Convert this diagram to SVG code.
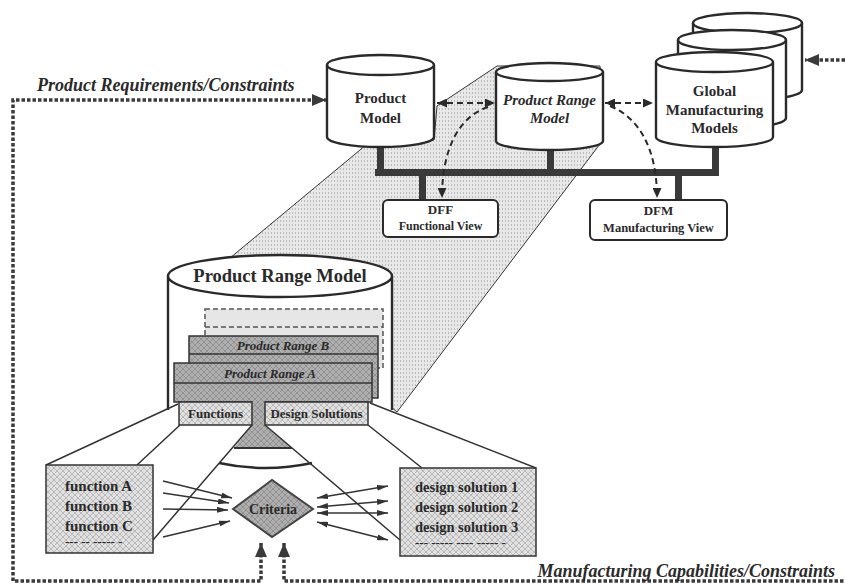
<svg xmlns="http://www.w3.org/2000/svg" width="845" height="584" viewBox="0 0 845 584">
<defs>
<style>
.ln{stroke:#2a2a2a;fill:none}
.cyl{fill:#fff;stroke:#2a2a2a;stroke-width:2.4}
.t{font-family:"Liberation Serif","Times New Roman",serif;font-weight:bold;fill:#2a2a2a;text-anchor:middle}
.ti{font-style:italic}
.dot{stroke:#3a3a3a;stroke-width:3.5;stroke-dasharray:3.5 2;fill:none}
.dash{stroke:#2a2a2a;stroke-width:2;stroke-dasharray:6 4;fill:none}
.thin{stroke:#333;stroke-width:1.5;fill:none}
.bus{fill:#3a3a3a}
</style>
<pattern id="xh" width="6" height="6" patternUnits="userSpaceOnUse"><rect width="6" height="6" fill="#e0e0e0"/><path d="M0 0L6 6M6 0L0 6" stroke="#b8b8b8" stroke-width="1"/></pattern>
<pattern id="xhd" width="6" height="6" patternUnits="userSpaceOnUse"><rect width="6" height="6" fill="#aeaeae"/><path d="M0 0L6 6M6 0L0 6" stroke="#929292" stroke-width="1"/></pattern>
<pattern id="dots" width="3" height="4" patternUnits="userSpaceOnUse"><rect width="3" height="4" fill="#e8e8e8"/><rect x="1" y="0" width="1" height="2" fill="#bcbcbc"/></pattern>
<marker id="big" viewBox="0 0 14 12" refX="14" refY="6" markerWidth="14" markerHeight="12" markerUnits="userSpaceOnUse" orient="auto-start-reverse"><path d="M0 0L14 6L0 12z" fill="#3a3a3a"/></marker>
<marker id="mid" viewBox="0 0 10 9" refX="10" refY="4.5" markerWidth="10" markerHeight="9" markerUnits="userSpaceOnUse" orient="auto-start-reverse"><path d="M0 0L10 4.5L0 9z" fill="#2a2a2a"/></marker>
<marker id="sm" viewBox="0 0 11 6" refX="11" refY="3" markerWidth="11" markerHeight="6" markerUnits="userSpaceOnUse" orient="auto-start-reverse"><path d="M0 0L11 3L0 6z" fill="#333"/></marker>
</defs>
<rect width="845" height="584" fill="#fff"/>

<!-- shaded projection -->
<polygon id="shade" points="437,106 497,66 600,66 603,140 397,412 300,330 230,258 372,140 434,140" fill="url(#dots)" stroke="#333" stroke-width="1"/>

<!-- bus -->
<g id="bus">
<rect class="bus" x="375" y="169" width="344" height="7"/>
<rect class="bus" x="377" y="140" width="7" height="33"/>
<rect class="bus" x="547" y="145" width="7" height="28"/>
<rect class="bus" x="712" y="140" width="7" height="33"/>
<rect class="bus" x="419" y="172" width="7" height="29"/>
<rect class="bus" x="675" y="172" width="7" height="29"/>
</g>

<g id="product-model">
<path class="cyl" d="M327 65V137A53.5 10 0 0 0 434 137V65"/>
<ellipse class="cyl" cx="380.5" cy="65" rx="53.5" ry="10"/>
<text class="t" x="380.5" y="103" font-size="15">Product</text>
<text class="t" x="380.5" y="123" font-size="15">Model</text>
</g>

<g id="product-range-model-small">
<path class="cyl" d="M496 72V141A53.5 9 0 0 0 603 141V72"/>
<ellipse class="cyl" cx="549.5" cy="72" rx="53.5" ry="9"/>
<text class="t ti" x="549.5" y="105" font-size="15">Product Range</text>
<text class="t ti" x="549.5" y="123" font-size="15">Model</text>
</g>

<g id="global-manufacturing-models">
<path class="cyl" d="M693 23V90A54.5 10 0 0 0 802 90V23"/>
<ellipse class="cyl" cx="747.5" cy="23" rx="54.5" ry="10"/>
<path class="cyl" d="M678 40V118A54 10 0 0 0 786 118V40"/>
<ellipse class="cyl" cx="732" cy="40" rx="54" ry="10"/>
<path class="cyl" d="M656 62V137A58.5 10 0 0 0 773 137V62"/>
<ellipse class="cyl" cx="714.5" cy="62" rx="58.5" ry="10"/>
<text class="t" x="714.5" y="96" font-size="15">Global</text>
<text class="t" x="714.5" y="115" font-size="15">Manufacturing</text>
<text class="t" x="714.5" y="133" font-size="15">Models</text>
</g>

<g id="dff">
<rect x="383" y="200" width="115" height="37" rx="5" fill="#fff" stroke="#2a2a2a" stroke-width="2"/>
<text class="t" x="440.5" y="214" font-size="13">DFF</text>
<text class="t" x="440.5" y="230" font-size="12">Functional View</text>
</g>

<g id="dfm">
<rect x="590" y="200" width="137" height="40" rx="5" fill="#fff" stroke="#2a2a2a" stroke-width="2"/>
<text class="t" x="658.5" y="215" font-size="13">DFM</text>
<text class="t" x="658.5" y="232" font-size="12.5">Manufacturing View</text>
</g>

<g id="big-cylinder">
<rect x="168" y="276" width="224" height="136" fill="#fff"/>
<path class="ln" stroke-width="2.4" d="M168 276V410M392 276V410"/>
<ellipse class="cyl" cx="280" cy="276" rx="112" ry="21"/>
<text class="t" x="280" y="282" font-size="18.5">Product Range Model</text>
<path class="ln" stroke-width="2.4" d="M219 463Q265 473 312 463"/>
</g>

<g id="layers">
<rect x="205" y="309" width="178" height="59" fill="#e6e6e6" stroke="#555" stroke-width="1.5" stroke-dasharray="5 3"/>
<line x1="205" y1="327" x2="383" y2="327" stroke="#555" stroke-width="1.5" stroke-dasharray="5 3"/>
<rect x="189" y="336" width="189" height="62" fill="url(#xhd)" stroke="#333" stroke-width="1.5"/>
<line x1="189" y1="354" x2="378" y2="354" stroke="#333" stroke-width="1.5"/>
<text class="t ti" x="283" y="350" font-size="13" fill="#3a3a3a">Product Range B</text>
<rect x="174" y="363" width="198" height="39" fill="url(#xhd)" stroke="#333" stroke-width="1.5"/>
<line x1="174" y1="383" x2="372" y2="383" stroke="#333" stroke-width="1.5"/>
<text class="t ti" x="270" y="378" font-size="13" fill="#3a3a3a">Product Range A</text>
<polygon points="252,400 265,400 265,425 292,448 234,448 252,425" fill="url(#xhd)"/>
<line x1="234" y1="448" x2="292" y2="448" stroke="#333" stroke-width="2"/>
</g>

<g id="functions">
<rect x="179" y="402" width="73" height="23" fill="url(#xh)" stroke="#333" stroke-width="1.5"/>
<text class="t" x="215.5" y="418" font-size="13" fill="#444">Functions</text>
</g>
<g id="design-solutions">
<rect x="265" y="402" width="103" height="23" fill="url(#xh)" stroke="#333" stroke-width="1.5"/>
<text class="t" x="316.5" y="418" font-size="13" fill="#444">Design Solutions</text>
</g>

<g id="projection-lines" class="thin" stroke-width="1.3">
<path d="M178 404L46 465M180 425L137 465M252 425L153 540"/>
<path d="M370 403L536 468M368 425L422 468M265 425L400 540"/>
</g>

<g id="function-list">
<rect x="46" y="465" width="107" height="88" fill="url(#xh)" stroke="#333" stroke-width="1.5"/>
<g class="t" font-size="15" style="text-anchor:start">
<text x="65" y="491">function A</text>
<text x="65" y="511">function B</text>
<text x="65" y="531">function C</text>
<text x="65" y="546" font-size="13">--- -- ----- -</text>
</g>
</g>

<g id="design-list">
<rect x="400" y="468" width="136" height="88" fill="url(#xh)" stroke="#333" stroke-width="1.5"/>
<g class="t" font-size="14.5" style="text-anchor:start">
<text x="415" y="492">design solution 1</text>
<text x="415" y="512">design solution 2</text>
<text x="415" y="532">design solution 3</text>
<text x="415" y="547" font-size="13">--- ----- ---- ----- -</text>
</g>
</g>

<g id="criteria">
<polygon points="233,509 272,480 313,509 272,537" fill="url(#xhd)" stroke="#444" stroke-width="2"/>
<text class="t" x="273" y="514" font-size="14" fill="#555" font-weight="normal">Criteria</text>
</g>

<g id="connectors">
<g class="thin">
<path d="M163 481L232 498" marker-end="url(#sm)"/>
<path d="M163 493L229 503" marker-end="url(#sm)"/>
<path d="M163 509L228 510" marker-end="url(#sm)"/>
<path d="M163 537L230 521" marker-end="url(#sm)"/>
<path d="M317 498L388 486" marker-start="url(#sm)" marker-end="url(#sm)"/>
<path d="M317 507L388 501" marker-start="url(#sm)" marker-end="url(#sm)"/>
<path d="M317 513L388 513" marker-start="url(#sm)" marker-end="url(#sm)"/>
<path d="M317 522L388 540" marker-start="url(#sm)" marker-end="url(#sm)"/>
</g>
<path class="dash" d="M437 103H495" marker-start="url(#mid)" marker-end="url(#mid)"/>
<path class="dash" d="M605 103H653" marker-start="url(#mid)" marker-end="url(#mid)"/>
<path class="dash" d="M488 107C458 117 442 150 442 198" marker-end="url(#mid)"/>
<path class="dash" d="M610 106C640 118 657 150 657 198" marker-end="url(#mid)"/>
<path class="dot" d="M261 543V581H13V100H326" marker-start="url(#big)" marker-end="url(#big)"/>
<path class="dot" d="M284 543V581H845" marker-start="url(#big)"/>
<path class="dot" d="M845 60H805" marker-end="url(#big)"/>
</g>

<text class="t ti" x="37" y="91" font-size="18" style="text-anchor:start">Product Requirements/Constraints</text>
<text class="t ti" x="835" y="577" font-size="18" style="text-anchor:end">Manufacturing Capabilities/Constraints</text>
</svg>
